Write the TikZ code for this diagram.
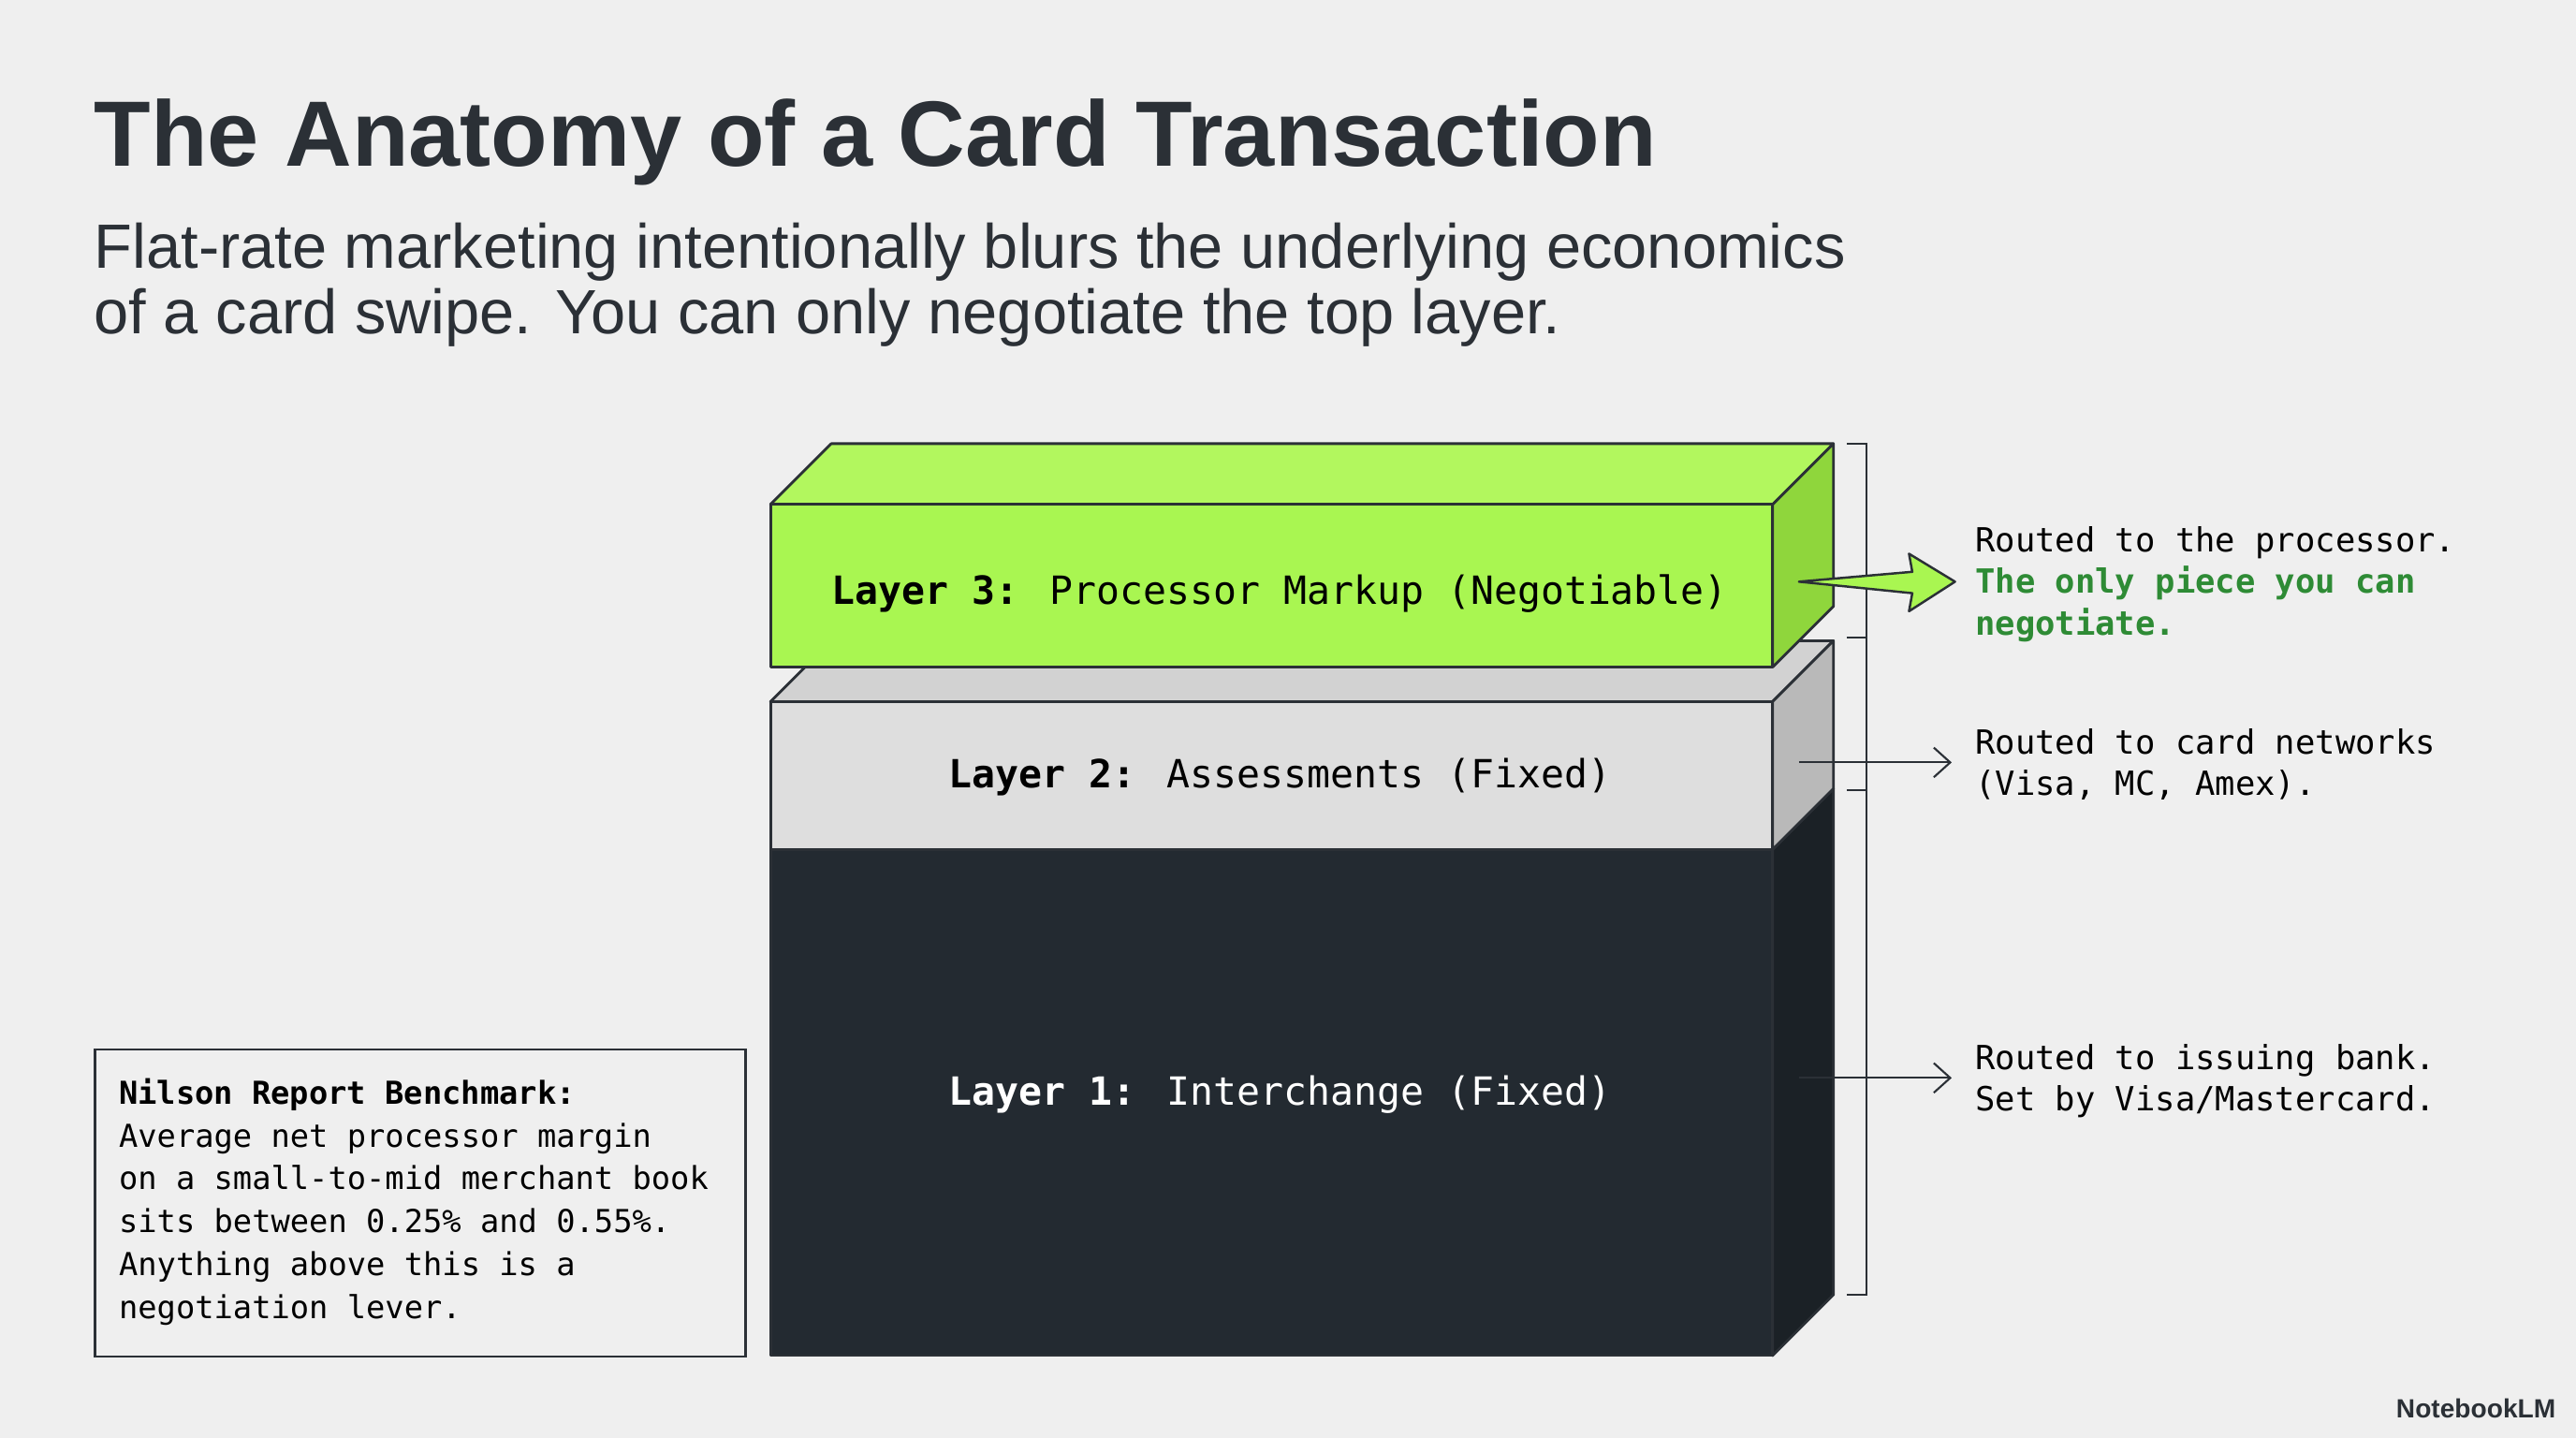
\documentclass[tikz,border=0pt]{standalone}
\usepackage{fontspec}
\setmainfont{Liberation Sans}
\newfontfamily\monofont{DejaVu Sans Mono}
\usetikzlibrary{arrows.meta}
\definecolor{bgcol}{HTML}{EFEFEF}
\definecolor{inkcol}{HTML}{2B3036}
\definecolor{limefront}{HTML}{A9F651}
\definecolor{limetop}{HTML}{B2F75E}
\definecolor{limeside}{HTML}{8FD63C}
\definecolor{greyfront}{HTML}{DEDEDE}
\definecolor{greytop}{HTML}{D2D2D2}
\definecolor{greyside}{HTML}{B9B9B9}
\definecolor{darkfront}{HTML}{232A31}
\definecolor{darkside}{HTML}{1B2126}
\definecolor{notegreen}{HTML}{2E8B35}

\begin{document}
\begin{tikzpicture}[x=0.01755cm,y=-0.01755cm,
    face/.style={draw=inkcol,line width=0.8pt,line join=round},
    layer/.style={font=\monofont\fontsize{11.8}{14}\selectfont,text=#1},
    side/.style={font=\monofont\fontsize{10.1}{12.7}\selectfont,anchor=north west,align=left,inner sep=0pt},
    route/.style={-{Straight Barb[length=5pt,width=9pt]},draw=inkcol,line width=0.6pt}]
    % background and frame
    \fill[bgcol] (0,0) rectangle (1568,875);
    \useasboundingbox (0,0) rectangle (1568,875);

    % headings
    \node (title) [anchor=base west,inner sep=0pt,text=inkcol,font=\bfseries\fontsize{28.2}{34}\selectfont] at (57,101) {The Anatomy of a Card Transaction};
    \node (sub) [anchor=north west,inner sep=0pt,align=left,text=inkcol,font=\fontsize{19}{20}\selectfont] at (57,135)
        {Flat-rate marketing intentionally blurs the underlying economics\\of a card swipe. You can only negotiate the top layer.};

    % layer 1
    \fill[face,fill=darkside] (1079,517) -- (1116,480) -- (1116,788) -- (1079,825) -- cycle;
    \fill[face,fill=darkfront] (469,517) rectangle (1079,825);
    % layer 2
    \fill[face,fill=greytop] (469,427) -- (506,390) -- (1116,390) -- (1079,427) -- cycle;
    \fill[face,fill=greyside] (1079,427) -- (1116,390) -- (1116,480) -- (1079,517) -- cycle;
    \fill[face,fill=greyfront] (469,427) rectangle (1079,517);
    % layer 3
    \fill[face,fill=limetop] (469,307) -- (506,270) -- (1116,270) -- (1079,307) -- cycle;
    \fill[face,fill=limeside] (1079,307) -- (1116,270) -- (1116,369) -- (1079,406) -- cycle;
    \fill[face,fill=limefront] (469,307) rectangle (1079,406);

    \node (l3) [layer=black] at (779,361) {\textbf{Layer 3:} Processor Markup (Negotiable)};
    \node (l2) [layer=black] at (779,473) {\textbf{Layer 2:} Assessments (Fixed)};
    \node (l1) [layer=white] at (779,666) {\textbf{Layer 1:} Interchange (Fixed)};

    % bracket
    \draw[inkcol,line width=0.6pt] (1124,270) -- (1136,270) -- (1136,788) -- (1124,788);
    \foreach \yy in {388,481} {
        \draw[inkcol,line width=0.6pt] (1124,\yy) -- (1136,\yy);
    }

    % notes
    \node (n3) [side] at (1202,320) {Routed to the processor.\\\textcolor{notegreen}{\bfseries The only piece you can}\\\textcolor{notegreen}{\bfseries negotiate.}};
    \node (n2) [side] at (1202,443) {Routed to card networks\\(Visa, MC, Amex).};
    \node (n1) [side] at (1202,635) {Routed to issuing bank.\\Set by Visa/Mastercard.};

    \coordinate (s3) at (1095,354);
    \coordinate (s2) at (1095,464);
    \coordinate (s1) at (1095,656);
    \fill[face,fill=limefront,line width=0.7pt] (s3) -- (1164,348) -- (1162,337) -- (1190,354) -- (1162,372) -- (1164,361) -- cycle;
    \draw[route] (s2) -- (1188,464);
    \draw[route] (s1) -- (1188,656);

    % benchmark box
    \node (bench) [draw=inkcol,line width=0.7pt,fill=bgcol,anchor=north west,minimum width=396*0.01755cm,minimum height=187*0.01755cm,
        inner sep=0pt] at (57,638) {};
    \node (benchtxt) [anchor=north west,inner sep=0pt,align=left,font=\monofont\fontsize{9.6}{13}\selectfont,text=black] at (72,656)
        {\textbf{Nilson Report Benchmark:}\\Average net processor margin\\on a small-to-mid merchant book\\sits between 0.25\% and 0.55\%.\\Anything above this is a\\negotiation lever.};

    % logo
    \node (logo) [anchor=base east,inner sep=0pt,font=\bfseries\fontsize{8}{9}\selectfont,text=inkcol] at (1556,863) {NotebookLM};
\end{tikzpicture}
\end{document}
